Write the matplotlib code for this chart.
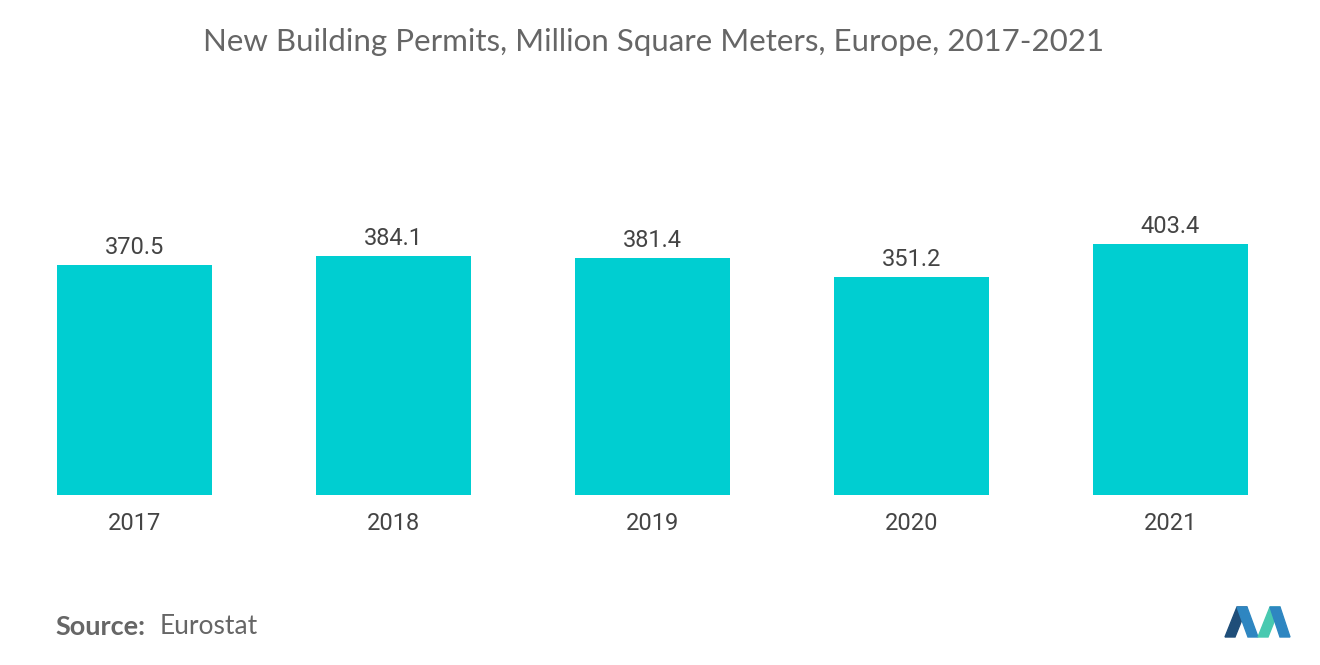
import matplotlib.pyplot as plt
from matplotlib.patches import Polygon

years = ["2017", "2018", "2019", "2020", "2021"]
permits = [370.5, 384.1, 381.4, 351.2, 403.4]

W, H = 1320, 665
fig = plt.figure(figsize=(13.2, 6.65), dpi=100)
ax = fig.add_axes([5 / W, 1 - 495 / H, 1295 / W, 395 / H])

ax.bar(range(len(years)), permits, width=0.6, color="#00CED1")
for i, v in enumerate(permits):
    ax.text(i, v + 10, f"{v}", ha="center", va="bottom", fontsize=17,
            color="#444444", family="Roboto")

ax.set_xlim(-0.5, 4.5)
ax.set_ylim(0, 636)
ax.set_xticks(range(len(years)))
ax.set_xticklabels(years, fontsize=17, color="#444444", family="Roboto")
ax.tick_params(axis="x", length=0, pad=12)
ax.set_yticks([])
for s in ax.spines.values():
    s.set_visible(False)

fig.text(0.495, 1 - 42 / H, "New Building Permits, Million Square Meters, Europe, 2017-2021",
         ha="center", va="center", fontsize=22.5, color="#666666", family="Lato")
fig.text(55 / W, 1 - 627 / H, "Source:", ha="left", va="center", fontsize=19.5,
         color="#666666", family="Lato", weight="bold")
fig.text(160 / W, 1 - 627 / H, "Eurostat", ha="left", va="center", fontsize=19,
         color="#666666", family="Lato")

# logo
def px(x, y):
    return (x / W, 1 - y / H)
logo = [
    ([(1225, 637), (1237, 607), (1247, 607), (1235, 637)], "#1f4e79"),
    ([(1237, 607), (1247, 607), (1258, 637), (1248, 637)], "#2e86c1"),
    ([(1258, 637), (1270, 607), (1280, 607), (1268, 637)], "#48c9b0"),
    ([(1270, 607), (1280, 607), (1290, 637), (1280, 637)], "#2e86c1"),
]
for pts, c in logo:
    fig.patches.append(Polygon([px(*p) for p in pts], closed=True, color=c,
                               transform=fig.transFigure))

fig.savefig("out.png", dpi=100, facecolor="white")
